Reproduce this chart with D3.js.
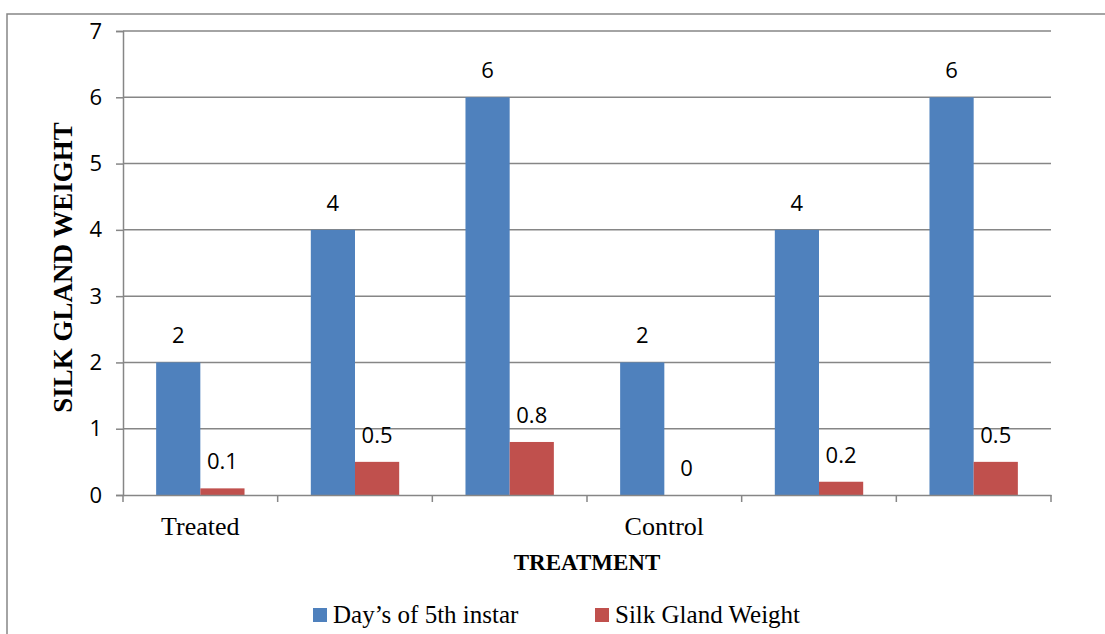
<!DOCTYPE html>
<html>
<head>
<meta charset="utf-8">
<script src="https://cdn.jsdelivr.net/npm/d3@7"></script>
<style>
  html, body { margin: 0; padding: 0; background: #fff; }
  svg { display: block; }
</style>
</head>
<body>
<svg id="chart" width="1105" height="634"></svg>
<script>
const groups = ["g1", "g2", "g3", "g4", "g5", "g6"];
const groupLabels = ["Treated", "", "", "Control", "", ""];
const seriesNames = ["Day\u2019s of 5th instar", "Silk Gland Weight"];
const daysValues = [2, 4, 6, 2, 4, 6];
const silkValues = [0.1, 0.5, 0.8, 0, 0.2, 0.5];
const yTicks = [0, 1, 2, 3, 4, 5, 6, 7];
const colors = ["#4F81BD", "#C0504D"];

(function () {
const svg = d3.select("#chart");
const W = 1105, H = 634;
const pLeft = 123, pRight = 1051, pTop = 31, pBottom = 495;
const grid = "#868686";

// outer border
svg.append("rect").attr("x", 7).attr("y", 14).attr("width", W + 10).attr("height", H + 10)
  .attr("fill", "none").attr("stroke", grid).attr("stroke-width", 1.5);

const y = d3.scaleLinear().domain([0, 7]).range([pBottom, pTop]);
const x0 = d3.scaleBand().domain(groups).range([pLeft, pRight]).paddingInner(0).paddingOuter(0);
const x1 = d3.scaleBand().domain([0, 1]).range([0, x0.bandwidth()]).paddingInner(0).paddingOuter(0.75);

// gridlines + left ticks
const yAxis = d3.axisLeft(y).tickValues(yTicks).tickSize(7).tickPadding(14).tickFormat(d3.format("d"));
const yg = svg.append("g").attr("transform", `translate(${pLeft},0)`).call(yAxis);
yg.select(".domain").attr("stroke", grid).attr("stroke-width", 1.5);
yg.selectAll(".tick line").attr("stroke", grid).attr("stroke-width", 1.5);
yg.selectAll(".tick text").attr("font-family", "'Open Sans', sans-serif").attr("font-size", 22).attr("fill", "#000");

svg.append("g").selectAll("line").data(yTicks.filter(d => d > 0)).join("line")
  .attr("x1", pLeft).attr("x2", pRight).attr("y1", d => y(d)).attr("y2", d => y(d))
  .attr("stroke", grid).attr("stroke-width", 1.5);

// bars
const data = groups.map((g, i) => ({ g, vals: [daysValues[i], silkValues[i]] }));
const gg = svg.append("g").selectAll("g").data(data).join("g")
  .attr("transform", d => `translate(${x0(d.g)},0)`);
gg.selectAll("rect").data(d => d.vals).join("rect")
  .attr("x", (v, j) => x1(j)).attr("width", x1.bandwidth())
  .attr("y", v => y(v)).attr("height", v => y(0) - y(v))
  .attr("fill", (v, j) => colors[j]);
gg.selectAll("text").data(d => d.vals).join("text")
  .attr("x", (v, j) => x1(j) + x1.bandwidth() / 2)
  .attr("y", v => y(v) - 19)
  .attr("text-anchor", "middle")
  .attr("font-family", "'Open Sans', sans-serif").attr("font-size", 22).attr("fill", "#000")
  .text(v => String(v));

// x axis
const xAxis = d3.axisBottom(x0).tickSize(0).tickFormat((d, i) => groupLabels[i]).tickPadding(22);
const xg = svg.append("g").attr("transform", `translate(0,${pBottom})`).call(xAxis);
xg.select(".domain").attr("stroke", grid).attr("stroke-width", 1.5);
xg.selectAll(".tick text").attr("font-family", "'Liberation Serif', serif").attr("font-size", 26).attr("fill", "#000");
// boundary ticks
const bounds = groups.map(g => x0(g)).concat([pRight]);
svg.append("g").selectAll("line").data(bounds).join("line")
  .attr("x1", d => d).attr("x2", d => d).attr("y1", pBottom).attr("y2", pBottom + 7)
  .attr("stroke", grid).attr("stroke-width", 1.5);

// axis titles
svg.append("text").attr("x", (pLeft + pRight) / 2).attr("y", 570).attr("text-anchor", "middle")
  .attr("font-family", "'Liberation Serif', serif").attr("font-weight", "bold").attr("font-size", 23)
  .text("TREATMENT");
svg.append("text").attr("transform", `translate(72,${(120 + 415) / 2}) rotate(-90)`).attr("text-anchor", "middle")
  .attr("font-family", "'Liberation Serif', serif").attr("font-weight", "bold").attr("font-size", 27)
  .text("SILK GLAND WEIGHT");

// legend
const legendX = [313, 595];
const lg = svg.append("g").selectAll("g").data(seriesNames).join("g")
  .attr("transform", (d, i) => `translate(${legendX[i]},608)`);
lg.append("rect").attr("width", 14).attr("height", 14).attr("fill", (d, i) => colors[i]);
lg.append("text").attr("x", 20).attr("y", 15)
  .attr("font-family", "'Liberation Serif', serif").attr("font-size", 25).attr("fill", "#000")
  .text(d => d);
})();
</script>
</body>
</html>
